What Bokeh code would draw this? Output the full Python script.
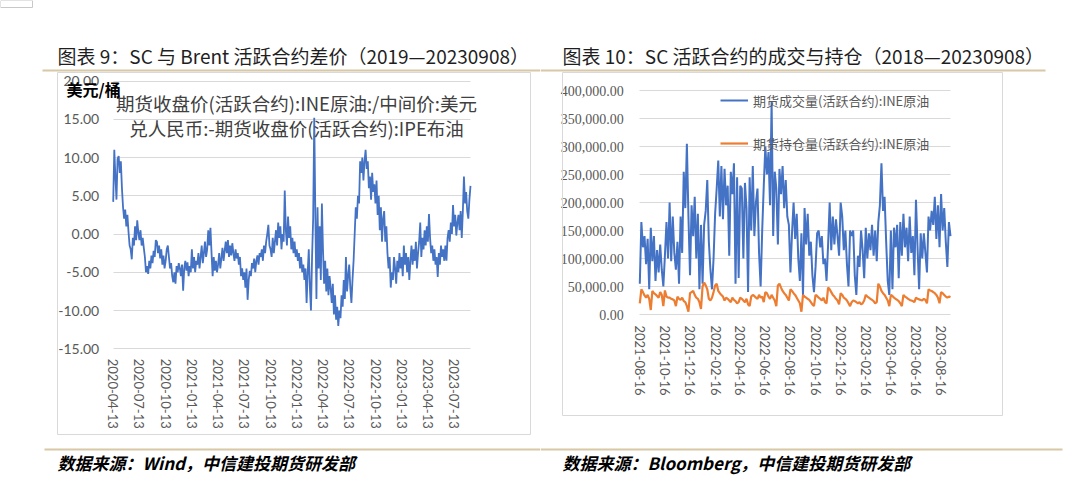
import math
import pandas as pd
from bokeh.plotting import figure
from bokeh.layouts import row
from bokeh.models import (Label, BoxAnnotation, FixedTicker, DatetimeTickFormatter,
                          NumeralTickFormatter, Range1d, Legend, LegendItem,
                          DatetimeAxis, LinearAxis, Grid)
from bokeh.embed import file_html
from bokeh.resources import INLINE

# ---------------- data ----------------
# SC - Brent active-contract spread, USD/bbl
spread_start, spread_end = "2020-04-13", "2023-09-08"
spread = [
    4.2, 11.0, 7.5, 4.5, 9.8, 10.2, 8.0, 9.5,
    6.0, 3.5, 2.0, 3.2, 1.0, 2.5, 0.3, -1.5,
    -2.0, -3.3, -0.5, -1.5, 1.0, -0.8, 1.8, 0.2,
    -0.8, 0.5, -1.5, -0.5, -1.8, -3.0, -5.0, -4.2,
    -5.2, -3.5, -4.5, -2.8, -3.8, -2.2, -3.0, -0.8,
    -1.0, -2.5, -1.5, -3.2, -2.0, -4.0, -2.8, -4.5,
    -3.5, -2.0, -1.5, -3.0, -4.5, -3.8, -5.5, -6.3,
    -5.0, -6.5, -4.2, -5.0, -3.8, -4.5, -5.5, -4.0,
    -7.4, -4.5, -3.5, -4.8, -3.7, -5.5, -4.2, -5.0,
    -2.0, -4.5, -3.0, -5.0, -3.5, -4.0, -2.5, -4.5,
    -3.0, -1.5, -3.8, -2.5, -1.0, -3.0, -2.0, 0.5,
    -1.5, 0.8, -2.5, -5.5, -3.0, -4.8, -3.5, -5.0,
    -4.0, -2.5, -4.5, -3.2, -1.8, -3.5, -2.2, -1.0,
    -2.5, -0.8, -3.0, -1.5, -2.8, -1.2, -2.5, -3.5,
    -2.0, -3.2, -2.5, -4.0, -3.0, -5.5, -4.5, -6.0,
    -5.0, -7.0, -4.5, -8.6, -6.0, -4.8, -5.5, -3.8,
    -4.5, -3.2, -5.0, -3.5, -2.8, -4.0, -2.5, -3.0,
    -2.0, -3.5, -1.5, -2.5, -1.0, 0.0, 1.2, -1.5,
    -2.0, -3.0, -0.5, -2.5, -1.0, 0.5, -1.5, 1.5,
    -0.5, 1.0, -2.0, 0.0, -1.0, 5.7, 0.5, -1.5,
    2.3, -0.5, 1.0, -2.0, -0.5, -2.5, -1.0, -3.0,
    -2.0, -3.5, -2.5, -4.5, -3.0, -5.0, -4.0, -6.0,
    -4.5, -9.0, -5.0, -2.0, -7.0, -10.0, -3.0, 2.0,
    15.2, 2.5, -8.5, 3.5, -4.5, 1.0, -6.0, 4.0,
    -2.0, -6.5, -3.5, -7.5, -4.5, -8.0, -5.5, -7.0,
    -9.0, -6.5, -10.5, -8.0, -11.2, -9.5, -12.0, -10.0,
    -11.0, -8.0, -9.5, -6.0, -8.5, -3.0, -7.5, -5.5,
    -4.0, -7.0, -9.0, -6.0, -3.5, 0.0, 3.5, 2.0,
    5.0, 4.0, 9.5, 8.0, 10.0, 7.0, 9.5, 11.0,
    8.5, 9.5, 6.0, 7.5, 4.5, 8.0, 5.5, 6.5,
    4.0, 7.0, 2.5, 5.0, 0.5, 3.5, -1.0, 2.0,
    3.0, -1.0, 1.0, -2.5, -4.5, -3.0, -7.0, -5.0,
    -6.0, -3.0, -4.5, -6.5, -3.5, -5.0, -2.5, -4.5,
    -3.0, -5.5, -1.5, -4.0, -2.5, -5.0, -3.0, -6.0,
    -3.5, -1.5, -4.0, -2.0, -3.5, -1.0, -4.5, -2.5,
    -1.0, 1.5, -3.0, -0.5, -2.0, 0.5, -1.5, 1.0,
    -1.0, 2.6, -0.5, -2.5, -1.5, -3.5, -2.0, -4.0,
    -3.0, -5.6, -2.5, -4.0, -1.5, -3.0, -2.0, -3.5,
    -1.5, -3.5, -0.5, 0.5, -1.0, 1.5, 0.0, 3.8,
    1.0, 2.5, -0.2, 1.5, 2.5, 0.5, 3.0, -0.5,
    3.0, 7.5, 4.0, 5.5, 3.0, 2.0, 4.5, 6.3,
]
spread_ticks = ["2020-04-13", "2020-07-13", "2020-10-13", "2021-01-13", "2021-04-13",
                "2021-07-13", "2021-10-13", "2022-01-13", "2022-04-13", "2022-07-13",
                "2022-10-13", "2023-01-13", "2023-04-13", "2023-07-13"]
spread_yticks = [-15, -10, -5, 0, 5, 10, 15, 20]

# SC active contract: volume and open interest, lots
vol_start, vol_end = "2021-08-16", "2023-09-08"
volume = [
    55000, 165000, 120000, 140000, 90000, 135000, 45000, 155000,
    95000, 140000, 60000, 115000, 75000, 125000, 80000, 50000,
    105000, 165000, 100000, 200000, 95000, 175000, 110000, 80000,
    130000, 55000, 175000, 110000, 255000, 190000, 305000, 175000,
    70000, 195000, 140000, 210000, 100000, 180000, 45000, 160000,
    55000, 160000, 185000, 240000, 130000, 80000, 45000, 100000,
    180000, 225000, 275000, 175000, 265000, 170000, 260000, 195000,
    230000, 105000, 255000, 215000, 270000, 55000, 245000, 65000,
    230000, 225000, 100000, 235000, 190000, 40000, 245000, 150000,
    265000, 140000, 200000, 225000, 110000, 50000, 150000, 230000,
    300000, 250000, 290000, 195000, 380000, 140000, 255000, 225000,
    125000, 260000, 215000, 265000, 190000, 240000, 175000, 160000,
    75000, 145000, 200000, 135000, 180000, 100000, 60000, 145000,
    35000, 190000, 125000, 180000, 105000, 130000, 70000, 40000,
    85000, 145000, 150000, 120000, 140000, 90000, 100000, 60000,
    125000, 200000, 115000, 175000, 125000, 170000, 140000, 105000,
    200000, 175000, 115000, 150000, 90000, 50000, 150000, 140000,
    150000, 70000, 35000, 105000, 85000, 150000, 115000, 65000,
    155000, 100000, 145000, 115000, 160000, 105000, 150000, 95000,
    165000, 195000, 270000, 185000, 210000, 130000, 60000, 35000,
    150000, 45000, 155000, 120000, 160000, 65000, 165000, 105000,
    180000, 120000, 155000, 95000, 175000, 110000, 140000, 70000,
    205000, 120000, 45000, 145000, 100000, 145000, 110000, 75000,
    175000, 150000, 185000, 160000, 210000, 135000, 195000, 120000,
    215000, 150000, 190000, 130000, 85000, 165000, 140000,
]
open_interest = [
    20000, 45000, 40000, 34000, 30000, 35000, 28000, 8000,
    42000, 38000, 36000, 33000, 30000, 40000, 35000, 15000,
    43000, 32000, 30000, 30000, 28000, 27000, 25000, 15000,
    32000, 28000, 26000, 30000, 24000, 22000, 15000, 5000,
    38000, 40000, 42000, 35000, 30000, 28000, 22000, 10000,
    50000, 57000, 52000, 45000, 28000, 25000, 30000, 40000,
    52000, 55000, 42000, 38000, 35000, 32000, 25000, 30000,
    28000, 25000, 22000, 30000, 26000, 24000, 20000, 22000,
    30000, 28000, 25000, 22000, 28000, 18000, 15000, 32000,
    35000, 33000, 30000, 28000, 35000, 30000, 32000, 22000,
    40000, 38000, 32000, 28000, 35000, 30000, 25000, 15000,
    52000, 55000, 48000, 42000, 38000, 35000, 30000, 25000,
    45000, 42000, 38000, 35000, 30000, 25000, 20000, 5000,
    35000, 32000, 30000, 28000, 26000, 22000, 18000, 15000,
    35000, 33000, 30000, 28000, 25000, 30000, 22000, 20000,
    48000, 45000, 40000, 35000, 32000, 28000, 25000, 18000,
    38000, 35000, 30000, 28000, 25000, 20000, 15000, 22000,
    25000, 24000, 22000, 20000, 22000, 18000, 20000, 25000,
    35000, 32000, 30000, 28000, 26000, 24000, 20000, 22000,
    55000, 50000, 42000, 38000, 35000, 30000, 25000, 15000,
    35000, 33000, 30000, 28000, 26000, 24000, 20000, 15000,
    35000, 32000, 30000, 28000, 26000, 25000, 24000, 22000,
    30000, 28000, 27000, 26000, 25000, 28000, 26000, 20000,
    45000, 43000, 42000, 40000, 38000, 35000, 30000, 20000,
    40000, 38000, 35000, 32000, 30000, 32000, 31000,
]
vol_ticks = ["2021-08-16", "2021-10-16", "2021-12-16", "2022-02-16", "2022-04-16",
             "2022-06-16", "2022-08-16", "2022-10-16", "2022-12-16", "2023-02-16",
             "2023-04-16", "2023-06-16", "2023-08-16"]
vol_yticks = [0, 50000, 100000, 150000, 200000, 250000, 300000, 350000, 400000]

title_left = "图表 9：SC 与 Brent 活跃合约差价（2019—20230908）"
title_right = "图表 10：SC 活跃合约的成交与持仓（2018—20230908）"
series_name_1 = "期货收盘价(活跃合约):INE原油:/中间价:美元"
series_name_2 = "兑人民币:-期货收盘价(活跃合约):IPE布油"
unit_label = "美元/桶"
legend_labels = ["期货成交量(活跃合约):INE原油", "期货持仓量(活跃合约):INE原油"]
source_left = "数据来源：Wind，中信建投期货研发部"
source_right = "数据来源：Bloomberg，中信建投期货研发部"

# ---------------- styling ----------------
W, H = 540, 497
CJK = "Noto Sans CJK SC"
SANS = "Lato"
SERIF = "Liberation Serif"
BLUE = "#4472C4"
ORANGE = "#ED7D31"
GRID = "#d9d9d9"
TAN = "#d8c8a6"
LABEL = "#595959"


def ms(d):
    return pd.Timestamp(d).value // 10**6


def date_fmt():
    f = "%Y-%m-%d"
    return DatetimeTickFormatter(days=f, months=f, years=f, hours=f, minutes=f,
                                 seconds=f, milliseconds=f, microseconds=f, hourmin=f, minsec=f)


def span_range(v0, v1, p0, p1, size):
    """Range over the whole canvas so that value v0 sits at pixel p0 and v1 at p1."""
    k = (v1 - v0) / (p1 - p0)
    return Range1d(v0 - p0 * k, v0 + (size - p0) * k)


def chart_fig(x_start, x_end, px_x0, px_x1, y_lo, y_hi, px_ylo, px_yhi):
    # The plotting frame covers the whole canvas; the axes sit at fixed locations inside it.
    p = figure(width=W, height=H, output_backend="svg", toolbar_location=None,
               x_axis_location=None, y_axis_location=None,
               min_border_left=0, min_border_right=0, min_border_top=0, min_border_bottom=0)
    p.center = []          # drop the automatic grids; a bounded one is added below
    p.title.visible = False
    p.outline_line_color = None
    p.border_fill_color = "white"
    p.background_fill_color = "white"
    p.x_range = span_range(ms(x_start), ms(x_end), px_x0, px_x1, W)
    # pixel rows are counted from the top, the range runs upward
    p.y_range = span_range(y_lo, y_hi, H - px_ylo, H - px_yhi, H)
    return p


def add_axes(p, x_start, x_end, xticks, y_lo, yticks, yfmt, yfont, x_standoff, y_standoff):
    xaxis = DatetimeAxis(ticker=FixedTicker(ticks=[ms(d) for d in xticks]),
                         formatter=date_fmt(), fixed_location=y_lo)
    yaxis = LinearAxis(ticker=FixedTicker(ticks=yticks),
                       formatter=NumeralTickFormatter(format=yfmt), fixed_location=ms(x_start))
    for ax in (xaxis, yaxis):
        ax.axis_line_color = None
        ax.major_tick_line_color = None
        ax.minor_tick_line_color = None
        ax.major_tick_out = 0
        ax.major_tick_in = 0
        ax.major_label_text_color = LABEL
    xaxis.major_label_orientation = -math.pi / 2
    xaxis.major_label_standoff = x_standoff
    xaxis.major_label_text_font = SANS
    xaxis.major_label_text_font_size = "13px"
    yaxis.major_label_standoff = y_standoff
    yaxis.major_label_text_font = yfont
    yaxis.major_label_text_font_size = "14px"
    p.add_layout(Grid(dimension=1, ticker=yaxis.ticker, grid_line_color=GRID,
                      grid_line_width=1, cross_bounds=(ms(x_start), ms(x_end))))
    p.add_layout(xaxis, "below")
    p.add_layout(yaxis, "left")


def text(p, x, y, s, size, font=CJK, color="#1f1f1f", align="left", style="normal"):
    # x, y measured from the canvas top-left corner
    p.add_layout(Label(x=x, y=H - y, x_units="screen", y_units="screen", text=s,
                       text_font=font, text_font_size=f"{size}px",
                       text_color=color, text_align=align, text_baseline="middle",
                       text_font_style=style))


def box(p, x0, y0, x1, y1, line=None, fill=None):
    p.add_layout(BoxAnnotation(left=x0, right=x1, top=H - y0, bottom=H - y1,
                               left_units="screen", right_units="screen",
                               top_units="screen", bottom_units="screen",
                               fill_color=fill, fill_alpha=1 if fill else 0,
                               line_color=line, line_width=1, line_alpha=1 if line else 0))


# ---------------- left chart: spread ----------------
pl = chart_fig(spread_start, spread_end, 112.7, 470, -15, 20, 348.3, 80.5)
box(pl, 57, 72, 530, 434, line=GRID)
add_axes(pl, spread_start, spread_end, spread_ticks, -15, spread_yticks, "0.00", SANS, 10, 14)
pl.line(pd.date_range(spread_start, spread_end, periods=len(spread)), spread,
        line_color=BLUE, line_width=1.8)

box(pl, 0, 0, 32, 7, line="#c8c8c8")
box(pl, 42, 69, 540, 71, fill=TAN)
box(pl, 44, 448, 540, 450, fill=TAN)
text(pl, 57, 55, title_left, 19)
text(pl, 296, 102, series_name_1, 18.5, color="#404040", align="center")
text(pl, 296, 127, series_name_2, 18.5, color="#404040", align="center")
text(pl, 66, 88, unit_label, 16, color="#000000", style="bold")
text(pl, 57, 462, source_left, 17, color="#000000", style="bold italic")

# ---------------- right chart: volume & open interest ----------------
pr = chart_fig(vol_start, vol_end, 99.3, 410, 0, 400000, 314, 90)
box(pr, 22, 72, 462, 415, line=GRID)
add_axes(pr, vol_start, vol_end, vol_ticks, 0, vol_yticks, "0,0.00", SERIF, 11, 16)
vol_dates = pd.date_range(vol_start, vol_end, periods=len(volume))
r_vol = pr.line(vol_dates, volume, line_color=BLUE, line_width=2)
r_oi = pr.line(vol_dates, open_interest, line_color=ORANGE, line_width=2.2)

legend = Legend(items=[LegendItem(label=legend_labels[0], renderers=[r_vol]),
                       LegendItem(label=legend_labels[1], renderers=[r_oi])],
                location=(180, 344), orientation="vertical", padding=0, margin=0,
                spacing=23, glyph_width=28, glyph_height=20, label_height=20,
                label_standoff=5, label_text_font=CJK, label_text_font_size="13px",
                label_text_color=LABEL, border_line_color=None, background_fill_alpha=0)
pr.add_layout(legend)

box(pr, 0, 69, 505, 71, fill=TAN)
box(pr, 0, 448, 522, 450, fill=TAN)
text(pr, 22, 55, title_right, 19)
text(pr, 22, 462, source_right, 17, color="#000000", style="bold italic")

layout = row(pl, pr)
open("out.html", "w").write(file_html(layout, INLINE))
